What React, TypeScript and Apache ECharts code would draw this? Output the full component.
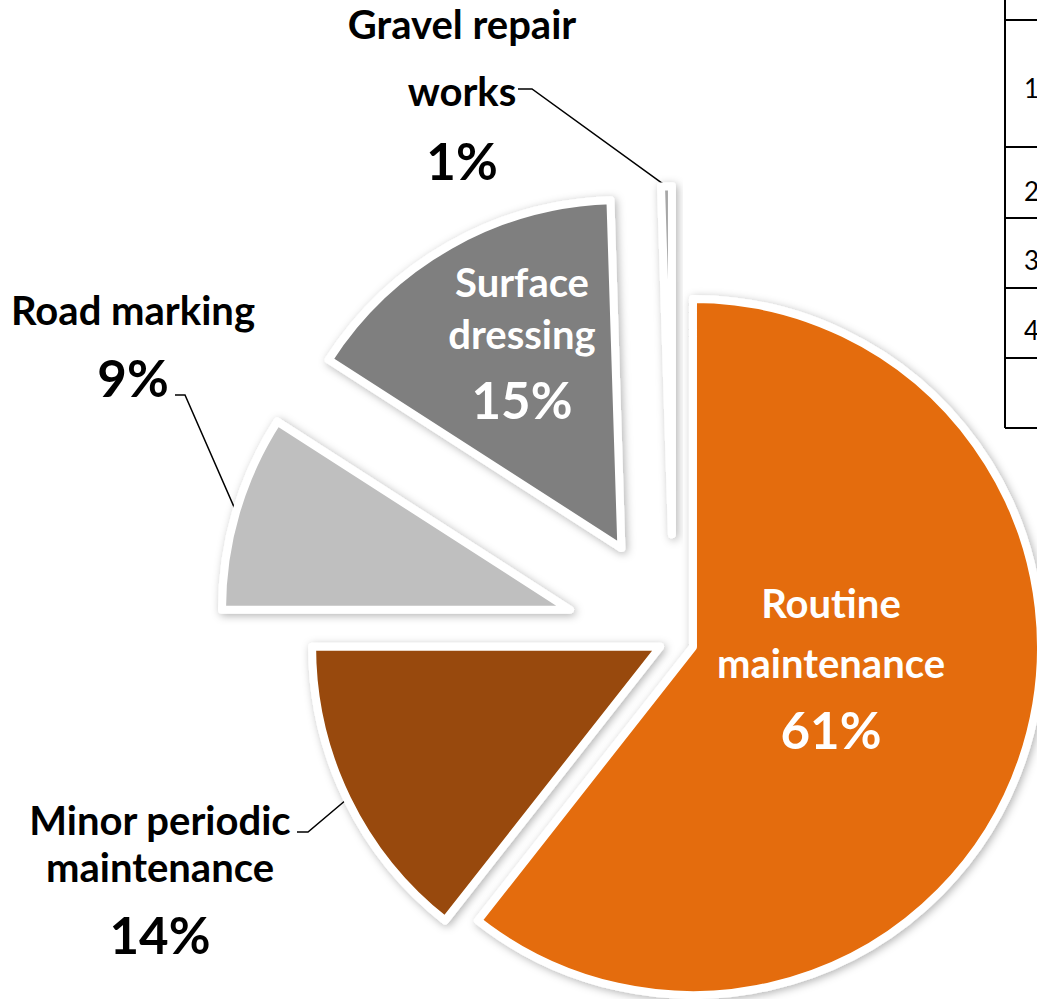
import React, { useEffect, useRef } from 'react';
import * as echarts from 'echarts';

// ---------------- data ----------------
const categories = [
  'Routine maintenance',
  'Minor periodic maintenance',
  'Road marking',
  'Surface dressing',
  'Gravel repair works',
];
const labelLines = [
  ['Routine', 'maintenance'],
  ['Minor periodic', 'maintenance'],
  ['Road marking'],
  ['Surface', 'dressing'],
  ['Gravel repair', 'works'],
];
const shares = [60.6, 14.4, 9.1, 15.4, 0.5];
const tableRowLabels = ['1', '2', '3', '4'];

// ---------------- style / layout ----------------
const colors = ['#E46C0A', '#984807', '#BFBFBF', '#7F7F7F', '#A6A6A6'];
const FONT = 'Lato';
const NAME_FONT = 40;
const PCT_FONT = 51;
const PIE_CX = 673.6;
const PIE_CY = 640.3;
const PIE_R = 348;
const explode = [20.5, 15, 108, 106, 106];
const labelInside = [true, false, false, true, false];
const labelBoxes: any[] = [
  { x: 831, y: 573, ln: 60, lp: 72 },
  { x: 160, y: 796, ln: 47, lp: 89, elbow: [308, 832], end: [297, 832] },
  { x: 133, y: 280, ln: 60, lp: 74, elbow: [185, 395], end: [175, 395] },
  { x: 522, y: 256, ln: 52, lp: 78 },
  { x: 462, y: -10, ln: 67, lp: 72, elbow: [532, 89], end: [518, 89] },
];
const tableLineX = 1005;
const tableRowLinesY = [20, 147, 218, 288, 358, 428];
const tableTextY = [88, 191, 260, 330];

export default function App() {
  const ref = useRef<HTMLDivElement>(null);

  useEffect(() => {
    if (!ref.current) return;
    const chart = echarts.init(ref.current, undefined, { renderer: 'svg' });

    const total = shares.reduce((a, b) => a + b, 0);
    let acc = 0;
    const midAngles = shares.map((v) => {
      const m = ((acc + v / 2) / total) * 2 * Math.PI;
      acc += v;
      return m;
    });

    const series = shares.map((_, i) => {
      const box = labelBoxes[i];
      const inside = labelInside[i];
      const txtColor = inside ? '#ffffff' : '#000000';
      return {
        type: 'pie',
        name: categories[i],
        center: [
          PIE_CX + explode[i] * Math.sin(midAngles[i]),
          PIE_CY - explode[i] * Math.cos(midAngles[i]),
        ],
        radius: [0, PIE_R],
        startAngle: 90,
        clockwise: true,
        percentPrecision: 0,
        avoidLabelOverlap: false,
        silent: true,
        emphasis: { disabled: true },
        label: {
          show: true,
          position: inside ? 'inside' : 'outside',
          overflow: 'none',
          formatter: (p: any) =>
            labelLines[p.dataIndex].map((s) => `{n|${s}}`).join('\n') + `\n{p|${p.percent}%}`,
          rich: {
            n: {
              fontFamily: FONT,
              fontWeight: 'bold',
              fontSize: NAME_FONT,
              lineHeight: box.ln,
              color: txtColor,
              align: 'center',
            },
            p: {
              fontFamily: FONT,
              fontWeight: 'bold',
              fontSize: PCT_FONT,
              lineHeight: box.lp,
              color: txtColor,
              align: 'center',
            },
          },
        },
        labelLine: {
          show: !inside,
          length: 10,
          length2: 10,
          lineStyle: { color: '#000', width: 1.5 },
        },
        labelLayout: (p: any) => {
          if (p.dataIndex !== i) return {};
          const out: any = { x: box.x, y: box.y, align: 'center', verticalAlign: 'top' };
          if (!inside && p.labelLinePoints) {
            out.labelLinePoints = [p.labelLinePoints[0], box.elbow, box.end];
          }
          return out;
        },
        data: categories.map((name, j) =>
          j === i
            ? {
                name,
                value: shares[j],
                itemStyle: {
                  color: colors[j],
                  borderColor: '#ffffff',
                  borderWidth: 8,
                  shadowBlur: 8,
                  shadowColor: 'rgba(0,0,0,0.3)',
                  shadowOffsetX: 2,
                  shadowOffsetY: 2,
                },
              }
            : {
                name,
                value: shares[j],
                itemStyle: { color: 'transparent', borderWidth: 0 },
                label: { show: false },
                labelLine: { show: false },
              }
        ),
      };
    });

    const graphic: any[] = [
      {
        type: 'line',
        shape: { x1: tableLineX, y1: 0, x2: tableLineX, y2: tableRowLinesY[tableRowLinesY.length - 1] },
        style: { stroke: '#000', lineWidth: 2 },
        silent: true,
      },
      ...tableRowLinesY.map((y) => ({
        type: 'line',
        shape: { x1: tableLineX, y1: y, x2: 1037, y2: y },
        style: { stroke: '#000', lineWidth: 2 },
        silent: true,
      })),
      ...tableRowLabels.map((t, k) => ({
        type: 'text',
        x: 1024,
        y: tableTextY[k],
        silent: true,
        style: {
          text: t,
          fill: '#000',
          fontFamily: FONT,
          fontSize: 26,
          textAlign: 'left',
          textVerticalAlign: 'middle',
        },
      })),
    ];

    chart.setOption({
      animation: false,
      backgroundColor: '#ffffff',
      series,
      graphic,
    } as any);

    return () => {
      chart.dispose();
    };
  }, []);

  return (
    <div
      ref={ref}
      style={{ position: 'fixed', left: 0, top: 0, width: 1037, height: 999 }}
    />
  );
}
